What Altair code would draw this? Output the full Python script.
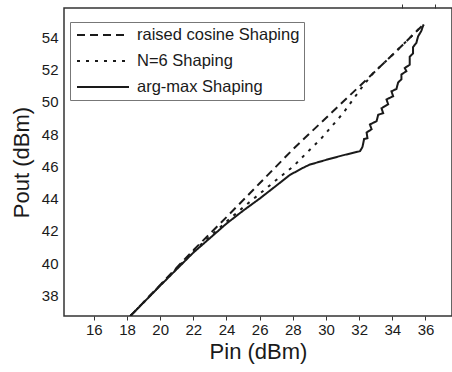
import altair as alt
import pandas as pd

# ---------------- data ----------------
series_names = ["raised cosine Shaping", "N=6 Shaping", "arg-max Shaping"]

rc_pin = [18.2, 20.0, 22.0, 24.0, 26.0, 28.0, 30.0, 32.0, 34.0, 35.87]
rc_pout = [36.72, 38.65, 40.8, 42.85, 44.95, 47.05, 49.0, 50.95, 52.9, 54.79]

n6_pin = [18.2, 20.0, 22.0, 24.0, 25.0, 26.0, 27.0, 28.04, 28.54, 29.75, 31.05, 32.2, 32.86, 34.0, 35.87]
n6_pout = [36.72, 38.62, 40.72, 42.58, 43.45, 44.3, 45.15, 46.01, 46.53, 47.77, 49.32, 50.95, 51.8, 52.9, 54.79]

am_pin = [18.2, 20.0, 22.0, 24.0, 25.0, 26.0, 27.0, 27.8, 28.5, 29.0, 30.0, 31.0, 32.05,
          32.2, 32.3, 32.5, 32.45, 32.75, 32.65, 33.05, 33.15, 33.45, 33.35, 33.75, 33.65,
          34.05, 33.95, 34.25, 34.35, 34.55, 34.55, 34.85, 34.75, 35.05, 35.05, 35.25, 35.25,
          35.45, 35.55, 35.75, 35.85, 35.9]
am_pout = [36.72, 38.6, 40.65, 42.45, 43.25, 44.0, 44.8, 45.45, 45.85, 46.1, 46.4, 46.68, 46.94,
           47.2, 47.7, 47.75, 48.1, 48.3, 48.6, 48.8, 49.2, 49.3, 49.6, 49.85, 50.15,
           50.35, 50.65, 50.8, 51.2, 51.4, 51.7, 51.9, 52.1, 52.3, 52.8, 53.0, 53.4,
           53.65, 54.05, 54.4, 54.7, 54.8]

x_ticks = [16, 18, 20, 22, 24, 26, 28, 30, 32, 34, 36]
y_ticks = [38, 40, 42, 44, 46, 48, 50, 52, 54]

rows = []
for name, xs, ys in [(series_names[0], rc_pin, rc_pout),
                     (series_names[1], n6_pin, n6_pout),
                     (series_names[2], am_pin, am_pout)]:
    for i, (a, b) in enumerate(zip(xs, ys)):
        rows.append({"series": name, "pin": a, "pout": b, "idx": i})
df = pd.DataFrame(rows)

W, H = 388, 308
FONT = "Liberation Sans"
INK = "#1a1a1a"

xscale = alt.Scale(domain=[14.2, 37.6], nice=False, zero=False)
yscale = alt.Scale(domain=[36.72, 55.82], nice=False, zero=False)

legend = alt.Legend(
    title=None, orient="none", legendX=6, legendY=14,
    symbolType="M-3.25,0H3.25", symbolSize=256, symbolStrokeWidth=2,
    symbolOffset=20, labelOffset=25, labelLimit=400,
    labelFont=FONT, labelFontSize=16.5, labelColor=INK,
    rowPadding=8, padding=4, strokeColor="#777", fillColor="white",
)

main = alt.Chart(df).mark_line(color=INK, strokeWidth=2, clip=True).encode(
    x=alt.X("pin:Q", scale=xscale,
            axis=alt.Axis(orient="bottom", values=x_ticks, ticks=False, labelPadding=6,
                          title="Pin (dBm)", titlePadding=4, grid=False, domain=False)),
    y=alt.Y("pout:Q", scale=yscale,
            axis=alt.Axis(orient="left", values=y_ticks, ticks=False, labelPadding=6,
                          title="Pout (dBm)", titlePadding=8, grid=False, domain=False)),
    strokeDash=alt.StrokeDash("series:N",
                              scale=alt.Scale(domain=series_names,
                                              range=[[8, 5], [3, 6], [1, 0]]),
                              legend=legend),
    order=alt.Order("idx:Q"),
)

t1 = alt.Chart(df).mark_point(opacity=0).encode(
    x=alt.X("pin:Q", scale=xscale,
            axis=alt.Axis(orient="top", position=H, values=x_ticks, labels=False, tickSize=4,
                          grid=False, domain=False, title=None)),
    y=alt.Y("pout:Q", scale=yscale,
            axis=alt.Axis(orient="right", position=0, values=y_ticks, labels=False, tickSize=4,
                          grid=False, domain=False, title=None)),
)
t2 = alt.Chart(df).mark_point(opacity=0).encode(
    x=alt.X("pin:Q", scale=xscale,
            axis=alt.Axis(orient="bottom", position=0, values=x_ticks, labels=False, tickSize=4,
                          grid=False, domain=False, title=None)),
    y=alt.Y("pout:Q", scale=yscale,
            axis=alt.Axis(orient="left", position=W, values=y_ticks, labels=False, tickSize=4,
                          grid=False, domain=False, title=None)),
)

chart = alt.layer(main, t1, t2).resolve_axis(
    x="independent", y="independent"
).properties(
    width=W, height=H,
    autosize=alt.AutoSizeParams(type="none"),
    padding={"left": 64, "top": 8, "right": 0, "bottom": 56},
    background="white",
).configure_view(
    stroke="#333", strokeWidth=1.5
).configure_axis(
    labelFont=FONT, labelFontSize=15, labelColor=INK,
    titleFont=FONT, titleFontSize=22, titleFontWeight="normal", titleColor=INK,
    tickColor="#333", tickWidth=1,
)

chart.save("out.html", embed_options={"renderer": "svg", "actions": False})
